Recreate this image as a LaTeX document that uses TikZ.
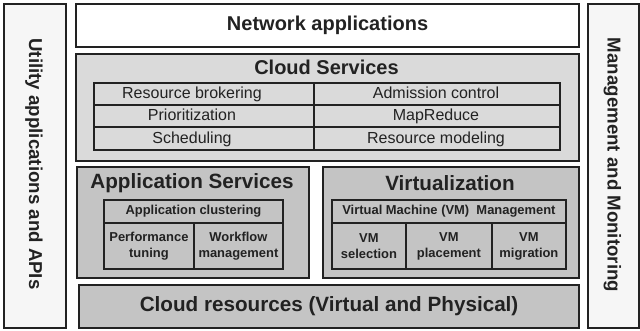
\documentclass[tikz,border=0pt]{standalone}
\usepackage{fontspec}
\setmainfont{Liberation Sans}
\definecolor{ink}{HTML}{222222}
\definecolor{light}{HTML}{DADADA}
\definecolor{mid}{HTML}{C4C4C4}
\definecolor{side}{HTML}{F6F6F6}
% box given by its corners in pixel units: name, x1, y1, x2, y2, style, text
\newcommand\pxbox[7]{%
  \node[#6, anchor=north west, inner sep=0pt,
        minimum width={(#4-#2)*0.75pt}, minimum height={(#5-#3)*0.75pt}]
        (#1) at (#2,#3) {#7};}
\begin{document}
\begin{tikzpicture}[x=0.75pt,y=-0.75pt,
  frame/.style={draw=ink, line width=1.6pt},
  tbl/.style={draw=ink, line width=1.4pt, text=ink},
  big/.style={font=\bfseries\fontsize{15.5}{18}\selectfont, text=ink},
  reg/.style={font=\fontsize{12}{14}\selectfont, text=ink, inner sep=0pt,
              text height=8.8pt, text depth=2.6pt},
  small/.style={font=\bfseries\fontsize{9.7}{12}\selectfont, align=center},
  sidetext/.style={font=\bfseries\fontsize{14}{16}\selectfont, text=ink, rotate=-90}]
\useasboundingbox (0,0) rectangle (640,331);

% side columns
\pxbox{util}{3}{3}{65}{327}{frame, fill=side}{}
\pxbox{mgmt}{587}{3}{638}{327}{frame, fill=side}{}
\node[sidetext] (util-t) at (34,164) {Utility applications and APIs};
\node[sidetext] (mgmt-t) at (612.5,165) {Management and Monitoring};

% top layer
\pxbox{net}{75}{3}{578}{46}{frame, fill=white, big, font=\bfseries\fontsize{15}{18}\selectfont}{Network applications}

% cloud services layer
\pxbox{cs}{75}{53}{578}{160}{frame, fill=light}{}
\node[big, font=\bfseries\fontsize{15}{18}\selectfont] (cs-t) at (326.5,67) {Cloud Services};
\pxbox{rb}{93}{82}{313}{104}{tbl, fill=light}{}
\pxbox{pr}{93}{104}{313}{126}{tbl, fill=light}{}
\pxbox{sc}{93}{126}{313}{149}{tbl, fill=light}{}
\pxbox{ac}{313}{82}{559}{104}{tbl, fill=light}{}
\pxbox{mr}{313}{104}{559}{126}{tbl, fill=light}{}
\pxbox{rm}{313}{126}{559}{149}{tbl, fill=light}{}
\node[reg] (rb-t) at (192,94.5) {Resource brokering};
\node[reg] (pr-t) at (192,116.5) {Prioritization};
\node[reg] (sc-t) at (192,139) {Scheduling};
\node[reg] (ac-t) at (436,94.5) {Admission control};
\node[reg] (mr-t) at (436,116.5) {MapReduce};
\node[reg] (rm-t) at (436,139) {Resource modeling};

% application services
\pxbox{as}{76}{166}{308}{277}{frame, fill=mid}{}
\node[big] (as-t) at (192,183) {Application Services};
\pxbox{acl}{103}{199}{282}{222}{tbl, fill=mid, small}{Application clustering}
\pxbox{pt}{103}{222}{193}{268}{tbl, fill=mid, small}{Performance\\tuning}
\pxbox{wm}{193}{222}{282}{268}{tbl, fill=mid, small}{Workflow\\management}

% virtualization
\pxbox{vz}{322}{166}{578}{277}{frame, fill=mid}{}
\node[big] (vz-t) at (450,183) {Virtualization};
\pxbox{vmm}{331}{199}{565}{222}{tbl, fill=mid, small}{Virtual Machine (VM)\ \ Management}
\pxbox{vs}{331}{222}{405}{268}{tbl, fill=mid, small}{VM\\selection}
\pxbox{vp}{405}{222}{491}{268}{tbl, fill=mid, small}{VM\\placement}
\pxbox{vmg}{491}{222}{565}{268}{tbl, fill=mid, small}{VM\\migration}

% bottom layer
\pxbox{res}{78}{284}{578}{327}{frame, fill=mid, big}{Cloud resources (Virtual and Physical)}
\end{tikzpicture}
\end{document}
